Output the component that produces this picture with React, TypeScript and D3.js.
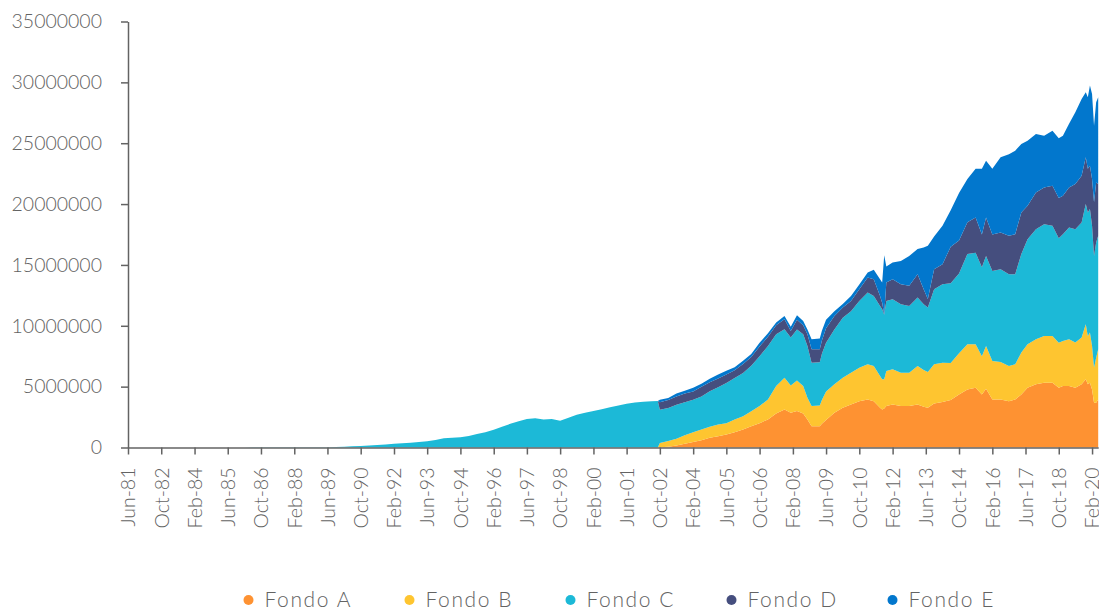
import React, { useRef, useEffect } from "react";
import * as d3 from "d3";

const fondos = ["Fondo A", "Fondo B", "Fondo C", "Fondo D", "Fondo E"];
const colores = ["#fe9232", "#fec530", "#1cb9d7", "#454e7e", "#0277cd"];

// Jun-81 .. Sep-02: solo existia el Fondo C (millones)
const mesesIniciales = [
  "1981-06", "1981-10", "1982-02", "1982-06", "1982-10", "1983-02", "1983-06", "1983-10",
  "1984-02", "1984-06", "1984-10", "1985-02", "1985-06", "1985-10", "1986-02", "1986-06",
  "1986-10", "1987-02", "1987-06", "1987-10", "1988-02", "1988-06", "1988-10", "1989-02",
  "1989-06", "1989-10", "1990-02", "1990-06", "1990-10", "1991-02", "1991-06", "1991-10",
  "1992-02", "1992-06", "1992-10", "1993-02", "1993-06", "1993-10", "1994-02", "1994-06",
  "1994-10", "1995-02", "1995-06", "1995-10", "1996-02", "1996-06", "1996-10", "1997-02",
  "1997-06", "1997-10", "1998-02", "1998-06", "1998-10", "1999-02", "1999-06", "1999-10",
  "2000-02", "2000-06", "2000-10", "2001-02", "2001-06", "2001-10", "2002-02", "2002-06",
  "2002-09",
];
const fondoCInicial = [
  0.001, 0.001, 0.002, 0.002, 0.003, 0.003, 0.004, 0.004,
  0.005, 0.005, 0.006, 0.007, 0.008, 0.009, 0.01, 0.011,
  0.012, 0.013, 0.014, 0.015, 0.017, 0.019, 0.021, 0.024,
  0.03, 0.045, 0.07, 0.1, 0.13, 0.16, 0.2, 0.25,
  0.3, 0.35, 0.4, 0.45, 0.52, 0.62, 0.75, 0.8,
  0.85, 0.95, 1.1, 1.25, 1.45, 1.7, 1.95, 2.15,
  2.35, 2.4, 2.3, 2.35, 2.2, 2.45, 2.7, 2.85,
  3.0, 3.15, 3.3, 3.45, 3.6, 3.7, 3.75, 3.8,
  3.82,
];

// Oct-02 en adelante: los cinco fondos (millones)
const meses = [
  "2002-10", "2003-02", "2003-06", "2003-10", "2004-02", "2004-06", "2004-10", "2005-02",
  "2005-06", "2005-10", "2006-02", "2006-06", "2006-10", "2007-02", "2007-06", "2007-10",
  "2008-01", "2008-04", "2008-07", "2008-09", "2008-11", "2009-03", "2009-04", "2009-06",
  "2009-10", "2010-02", "2010-06", "2010-10", "2011-02", "2011-05", "2011-08", "2011-09",
  "2011-10", "2011-11", "2012-02", "2012-06", "2012-10", "2013-02", "2013-05", "2013-07",
  "2013-10", "2014-02", "2014-06", "2014-10", "2015-02", "2015-06", "2015-09", "2015-11",
  "2016-02", "2016-06", "2016-10", "2017-01", "2017-04", "2017-07", "2017-11", "2018-03",
  "2018-07", "2018-10", "2018-12", "2019-03", "2019-06", "2019-09", "2019-11", "2019-12",
  "2020-01", "2020-02", "2020-03", "2020-04", "2020-05",
];
const fondoA = [
  0.02, 0.07, 0.16, 0.3, 0.45, 0.6, 0.8, 0.93,
  1.07, 1.26, 1.48, 1.75, 2.0, 2.3, 2.8, 3.13,
  2.86, 3.0, 2.8, 2.3, 1.75, 1.75, 1.95, 2.25,
  2.85, 3.27, 3.54, 3.81, 3.95, 3.81, 3.27, 3.13,
  3.2, 3.4, 3.54, 3.4, 3.4, 3.54, 3.35, 3.27,
  3.62, 3.73, 3.9, 4.35, 4.77, 4.9, 4.36, 4.83,
  3.95, 3.95, 3.81, 3.95, 4.36, 4.9, 5.19, 5.32,
  5.32, 4.9, 5.05, 5.05, 4.91, 5.19, 5.6, 5.19,
  5.32, 4.77, 3.68, 3.68, 3.95,
];
const fondoB = [
  0.36, 0.46, 0.55, 0.7, 0.8, 0.87, 0.9, 0.96,
  0.93, 1.04, 1.09, 1.23, 1.4, 1.65, 2.25, 2.6,
  2.24, 2.5, 2.25, 1.79, 1.65, 1.7, 1.95, 2.35,
  2.35, 2.47, 2.61, 2.75, 2.88, 2.88, 2.6, 2.47,
  2.4, 2.88, 2.88, 2.75, 2.75, 3.15, 3.01, 2.93,
  3.21, 3.24, 3.05, 3.4, 3.71, 3.58, 3.14, 3.51,
  3.15, 3.07, 2.88, 2.88, 3.44, 3.58, 3.7, 3.84,
  3.84, 3.7, 3.7, 3.84, 3.71, 3.84, 4.52, 3.97,
  4.12, 3.57, 2.88, 3.7, 4.12,
];
const fondoC = [
  2.72, 2.72, 2.81, 2.72, 2.68, 2.73, 2.92, 3.06,
  3.3, 3.4, 3.55, 3.74, 4.1, 4.39, 4.25, 3.98,
  3.93, 4.2, 4.25, 4.25, 3.57, 3.55, 3.8, 4.0,
  4.5, 4.93, 5.05, 5.48, 5.9, 5.76, 5.76, 5.76,
  5.3, 5.76, 5.76, 5.62, 5.48, 5.63, 5.41, 5.3,
  6.17, 6.45, 6.55, 6.55, 7.42, 7.52, 7.3, 7.4,
  7.4, 7.63, 7.55, 7.41, 8.1, 8.64, 9.05, 9.19,
  9.05, 8.6, 8.78, 9.19, 9.32, 9.46, 9.88, 10.14,
  10.15, 9.87, 9.18, 9.47, 9.32,
];
const fondoD = [
  0.62, 0.65, 0.68, 0.71, 0.67, 0.8, 0.75, 0.71,
  0.7, 0.64, 0.74, 0.71, 0.8, 0.76, 0.74, 0.82,
  0.54, 0.8, 0.74, 0.96, 1.1, 1.07, 1.1, 1.2,
  1.1, 0.83, 0.84, 0.96, 1.24, 1.38, 0.82, 0.54,
  0.05, 1.51, 1.65, 1.65, 1.65, 1.92, 1.23, 0.7,
  1.65, 1.64, 3.0, 2.7, 2.6, 2.9, 2.7, 3.16,
  3.0, 3.02, 3.15, 3.29, 3.4, 2.74, 3.02, 3.02,
  3.29, 3.3, 3.16, 3.29, 3.71, 3.84, 3.84, 3.6,
  3.56, 3.85, 4.4, 4.93, 4.26,
];
const fondoE = [
  0.21, 0.17, 0.23, 0.24, 0.3, 0.23, 0.28, 0.33,
  0.3, 0.26, 0.27, 0.25, 0.3, 0.28, 0.22, 0.27,
  0.36, 0.36, 0.36, 0.4, 0.83, 0.88, 0.8, 0.7,
  0.4, 0.3, 0.41, 0.4, 0.41, 0.77, 1.38, 1.65,
  4.85, 1.32, 1.37, 1.91, 2.46, 2.06, 3.43, 4.37,
  2.69, 3.15, 3.0, 3.9, 3.56, 4.0, 5.4, 4.66,
  5.4, 6.17, 6.71, 6.86, 5.64, 5.34, 4.8, 4.25,
  4.53, 4.9, 4.93, 5.23, 5.9, 6.31, 5.35, 5.88,
  6.59, 6.99, 6.3, 6.59, 7.13,
];

const yTicks = [0, 5, 10, 15, 20, 25, 30, 35];

const App = () => {
  const svgRef = useRef<SVGSVGElement>(null);

  useEffect(() => {
    const svg = d3.select(svgRef.current);
    svg.selectAll("*").remove();

    const parse = d3.timeParse("%Y-%m");
    const rows: any[] = [
      ...mesesIniciales.map((m, i) => ({
        date: parse(m), "Fondo A": 0, "Fondo B": 0, "Fondo C": fondoCInicial[i], "Fondo D": 0, "Fondo E": 0,
      })),
      ...meses.map((m, i) => ({
        date: parse(m), "Fondo A": fondoA[i], "Fondo B": fondoB[i], "Fondo C": fondoC[i], "Fondo D": fondoD[i], "Fondo E": fondoE[i],
      })),
    ];

    const start = parse("1981-06")!;
    const x = d3.scaleTime().domain([start, parse("2020-05")!]).range([128, 1098.2]);
    const y = d3.scaleLinear().domain([0, 35]).range([447.5, 21.5]);

    const series = d3.stack<any>().keys(fondos)(rows);
    const area = d3
      .area<any>()
      .x((d) => x(d.data.date))
      .y0((d) => y(d[0]))
      .y1((d) => y(d[1]));

    svg
      .append("g")
      .selectAll("path")
      .data(series)
      .join("path")
      .attr("fill", (d, i) => colores[i])
      .attr("d", area as any);

    const grey = "#636363";

    // eje Y
    const yAxis = svg
      .append("g")
      .attr("transform", "translate(128,0)")
      .call(
        d3.axisLeft(y).tickValues(yTicks).tickSize(7).tickSizeOuter(0).tickPadding(19)
          .tickFormat((d: any) => String(d * 1000000))
      );
    yAxis.select(".domain").attr("stroke", grey).attr("stroke-width", 1.5);
    yAxis.selectAll(".tick line").attr("stroke", grey).attr("stroke-width", 1.5);
    yAxis
      .selectAll("text")
      .attr("fill", grey)
      .style("font-family", "Lato")
      .style("font-weight", "300")
      .style("font-size", "19.5px");

    // eje X, una marca cada 16 meses
    const xTicks = d3.range(0, 468, 16).map((m) => d3.timeMonth.offset(start, m));
    const xAxis = svg
      .append("g")
      .attr("transform", "translate(0,447.5)")
      .call(
        d3.axisBottom(x).tickValues(xTicks).tickSize(7).tickSizeOuter(0)
          .tickFormat(d3.timeFormat("%b-%y") as any)
      );
    xAxis.select(".domain").attr("stroke", grey).attr("stroke-width", 1.5);
    xAxis.selectAll(".tick line").attr("stroke", grey).attr("stroke-width", 1.5);
    xAxis
      .selectAll("text")
      .attr("fill", grey)
      .attr("transform", "rotate(-90)")
      .attr("text-anchor", "end")
      .attr("x", -20)
      .attr("y", 0)
      .attr("dy", "0.35em")
      .style("font-family", "Lato")
      .style("font-weight", "300")
      .style("font-size", "19.5px");

    // leyenda
    const legend = svg
      .append("g")
      .selectAll("g")
      .data(fondos)
      .join("g")
      .attr("transform", (d, i) => `translate(${248.5 + i * 161}, 600)`);
    legend.append("circle").attr("r", 5).attr("fill", (d, i) => colores[i]);
    legend
      .append("text")
      .attr("x", 16)
      .attr("y", 7)
      .attr("fill", grey)
      .style("font-family", "Lato")
      .style("font-weight", "300")
      .style("font-size", "21px")
      .style("letter-spacing", "1.6px")
      .text((d) => d);
  }, []);

  return (
    <svg
      ref={svgRef}
      width={1099}
      height={611}
      style={{ position: "absolute", left: 0, top: 0, display: "block" }}
    ></svg>
  );
};

export default App;
